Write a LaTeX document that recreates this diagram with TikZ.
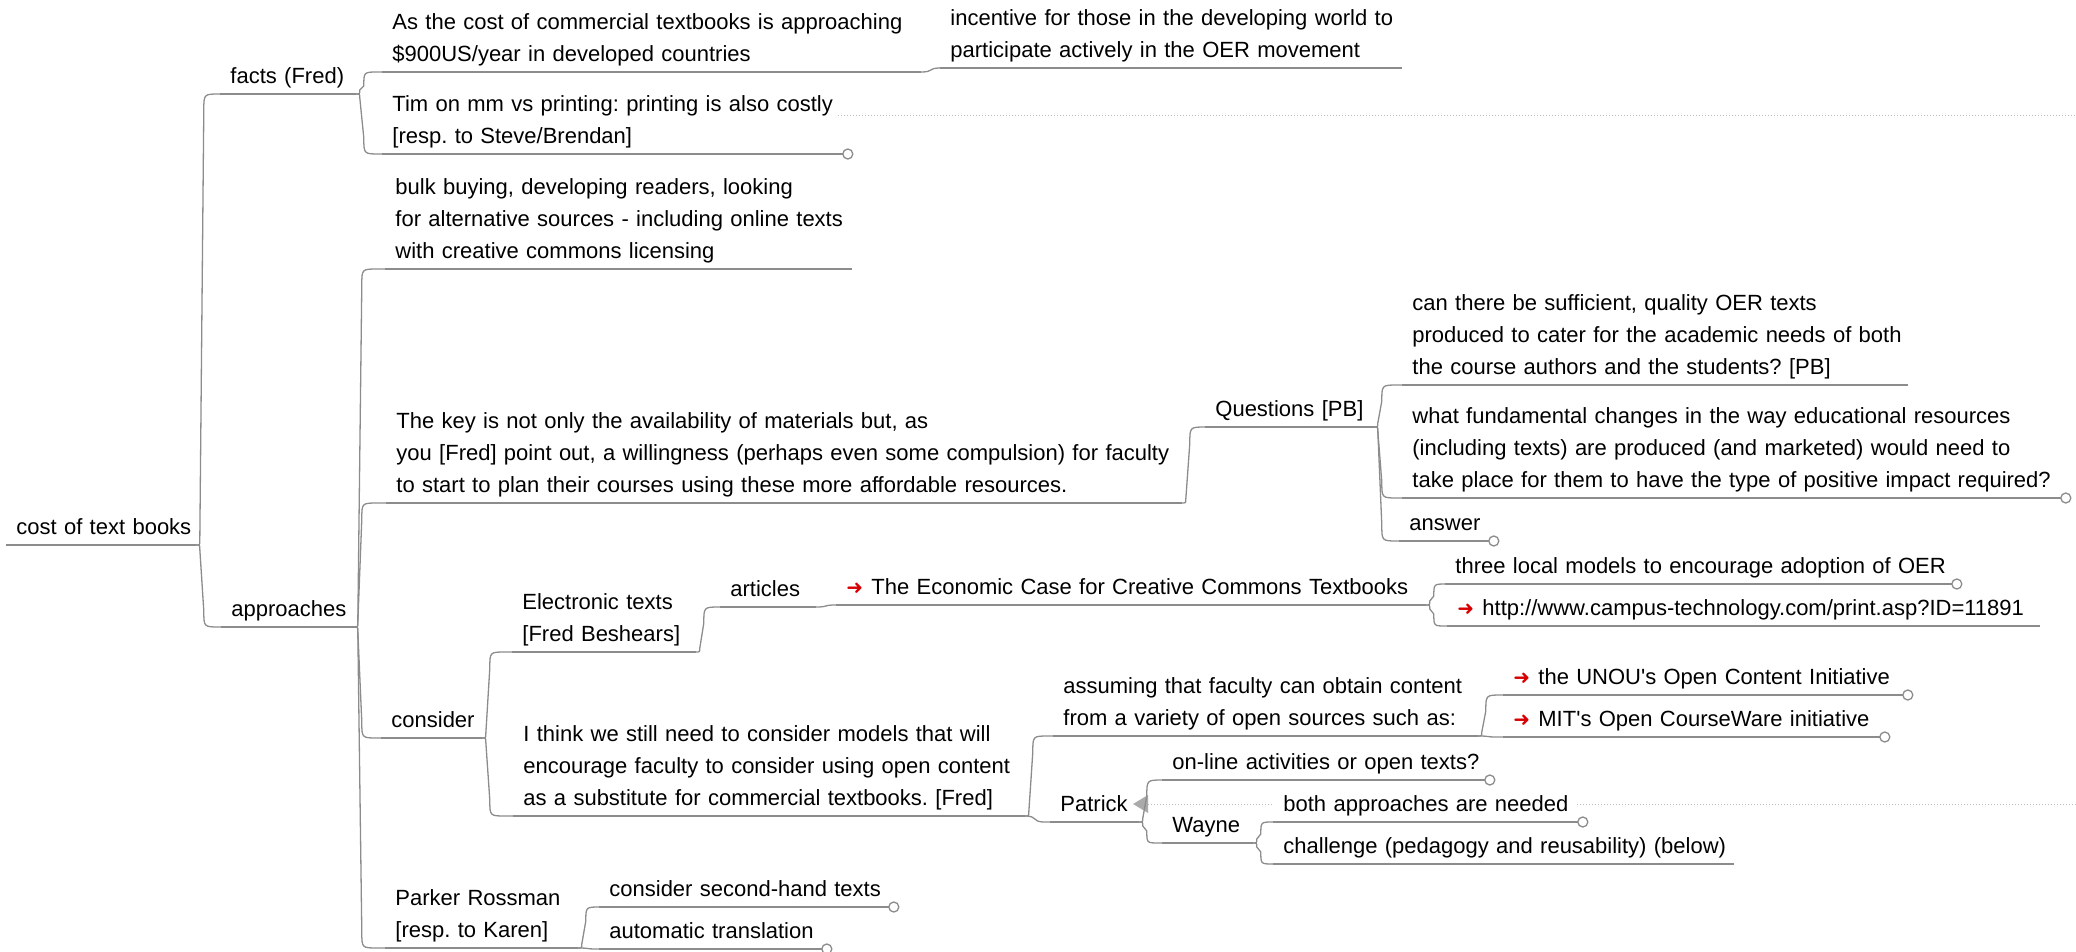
\documentclass[tikz,border=0pt]{standalone}
\usepackage{fontspec}
\setmainfont{Liberation Sans}
\newfontfamily\arrowfont{DejaVu Sans}
\usetikzlibrary{calc}
\definecolor{linegray}{RGB}{140,140,140}
\definecolor{dotgray}{RGB}{190,190,190}
\definecolor{trigray}{RGB}{170,170,170}
\definecolor{arrowred}{RGB}{215,0,0}
\frenchspacing
% red hyperlink marker in front of a topic text
\newcommand\linkarrow{\makebox[12.5pt][l]{\raisebox{0.3pt}{\fontsize{10}{10}\arrowfont\color{arrowred}➜}}}

\begin{document}
\begin{tikzpicture}[x=0.5pt,y=-0.5pt,
  topic/.style={anchor=south west, inner xsep=5pt, inner ysep=5pt, text depth=0pt,
    align=left, font=\fontsize{11}{16}\selectfont},
  % multi-line topics: the box hangs from its first baseline
  twolines/.style={text depth=16pt},
  threelines/.style={text depth=32pt},
  link/.style={draw=linegray, line width=0.65pt},
  dotline/.style={draw=dotgray, line width=0.5pt, dash pattern=on 0.5pt off 1pt},
  % branch: short turn at the parent, near-vertical run, rounded turn into the child
  elbow/.style={to path={
    let \p1=(\tikztostart), \p2=(\tikztotarget), \n1={2*(\y2>\y1)-1} in
    .. controls (\x1+2pt,\y1) .. (\x1+2pt,\y1+\n1*2pt)
    -- (\x1+4pt,\y2-\n1*#1)
    .. controls (\x1+4pt,\y2) .. (\x1+4pt+#1,\y2)
    -- (\p2)}},
  elbow/.default=8pt,
  % branch to a child at nearly the same height
  flat/.style={to path={
    let \p1=(\tikztostart), \p2=(\tikztotarget) in
    .. controls (\x1+7pt,\y1) and (\x1+3pt,\y2) .. (\x1+10pt,\y2) -- (\p2)}}
]
\useasboundingbox (0,0) rectangle (2076,952);

% light dotted guide lines
\draw[dotline] (838,116) -- (2076,116);
\draw[dotline] (1148,804) -- (2076,804);

% topics
\node[topic,text width=84.5pt] (root) at (6,545) {\mbox{cost of text books}};
\node[topic,text width=57.5pt] (facts) at (220,94) {\mbox{facts (Fred)}};
\node[topic,twolines,text width=259pt] (as) at (382,72) {\mbox{As the cost of commercial textbooks is approaching}\\\mbox{\$900US/year in developed countries}};
\node[topic,twolines,text width=220.5pt] (inc) at (940,68) {\mbox{incentive for those in the developing world to}\\\mbox{participate actively in the OER movement}};
\node[topic,twolines,text width=220pt] (tim) at (382,154) {\mbox{Tim on mm vs printing: printing is also costly}\\\mbox{[resp. to Steve/Brendan]}};
\node[topic,text width=56pt] (appr) at (221,627) {\mbox{approaches}};
\node[topic,threelines,text width=223pt] (bulk) at (385,269) {\mbox{bulk buying, developing readers, looking}\\\mbox{for alternative sources - including online texts}\\\mbox{with creative commons licensing}};
\node[topic,threelines,text width=387.5pt] (key) at (386,503) {\mbox{The key is not only the availability of materials but, as}\\\mbox{you [Fred] point out, a willingness (perhaps even some compulsion) for faculty}\\\mbox{to start to plan their courses using these more affordable resources.}};
\node[topic,text width=74pt] (quest) at (1205,427) {\mbox{Questions [PB]}};
\node[topic,threelines,text width=242.5pt] (can) at (1402,385) {\mbox{can there be sufficient, quality OER texts}\\\mbox{produced to cater for the academic needs of both}\\\mbox{the course authors and the students? [PB]}};
\node[topic,threelines,text width=319pt] (what) at (1402,498) {\mbox{what fundamental changes in the way educational resources}\\\mbox{(including texts) are produced (and marketed) would need to}\\\mbox{take place for them to have the type of positive impact required?}};
\node[topic,text width=34.5pt] (answer) at (1399,541) {\mbox{answer}};
\node[topic,text width=40pt] (cons) at (381,738) {\mbox{consider}};
\node[topic,twolines,text width=81.5pt] (elec) at (512,652) {\mbox{Electronic texts}\\\mbox{[Fred Beshears]}};
\node[topic,text width=37.5pt] (art) at (720,607) {\mbox{articles}};
\node[topic,text width=284.5pt] (econ) at (836,605) {\mbox{\linkarrow The Economic Case for Creative Commons Textbooks}};
\node[topic,text width=243pt] (three) at (1445,584) {\mbox{three local models to encourage adoption of OER}};
\node[topic,text width=286pt] (http) at (1447,626) {\mbox{\linkarrow http://www.campus-technology.com/print.asp?ID=11891}};
\node[topic,threelines,text width=245.5pt] (think) at (513,816) {\mbox{I think we still need to consider models that will}\\\mbox{encourage faculty to consider using open content}\\\mbox{as a substitute for commercial textbooks. [Fred]}};
\node[topic,twolines,text width=202pt] (assum) at (1053,736) {\mbox{assuming that faculty can obtain content}\\\mbox{from a variety of open sources such as:}};
\node[topic,text width=189.5pt] (unou) at (1503,695) {\mbox{\linkarrow the UNOU\textquotesingle s Open Content Initiative}};
\node[topic,text width=178pt] (mit) at (1503,737) {\mbox{\linkarrow MIT\textquotesingle s Open CourseWare initiative}};
\node[topic,text width=34pt] (pat) at (1050,822) {\mbox{Patrick}};
\node[topic,text width=151pt] (online) at (1162,780) {\mbox{on-line activities or open texts?}};
\node[topic,text width=35pt] (wayne) at (1162,843) {\mbox{Wayne}};
\node[topic,text width=142pt,fill=white] (both) at (1273,822) {\mbox{both approaches are needed}};
\node[topic,text width=220pt] (chal) at (1273,864) {\mbox{challenge (pedagogy and reusability) (below)}};
\node[topic,twolines,text width=86pt] (park) at (385,948) {\mbox{Parker Rossman}\\\mbox{[resp. to Karen]}};
\node[topic,text width=134.5pt] (second) at (599,907) {\mbox{consider second-hand texts}};
\node[topic,text width=101pt] (auto) at (599,949) {\mbox{automatic translation}};

% collapse marker beside Patrick
\fill[trigray] (1148,795) -- (1133,804) -- (1148,813) -- cycle;

% underlines
\foreach \n in {root,facts,as,inc,tim,appr,bulk,key,quest,can,what,answer,cons,elec,art,econ,
  three,http,think,assum,unou,mit,pat,online,wayne,both,chal,park,second,auto}
  \draw[link] (\n.south west) -- (\n.south east);

% branches
\draw[link] (root.south east) to[elbow] (facts.south west);
\draw[link] (root.south east) to[elbow] (appr.south west);
\draw[link] (facts.south east) to[elbow=7pt] (as.south west);
\draw[link] (facts.south east) to[elbow] (tim.south west);
\draw[link] (as.south east) to[flat] (inc.south west);
\draw[link] (appr.south east) to[elbow] (bulk.south west);
\draw[link] (appr.south east) to[elbow] (key.south west);
\draw[link] (appr.south east) to[elbow] (cons.south west);
\draw[link] (appr.south east) to[elbow] (park.south west);
\draw[link] (key.south east) to[elbow] (quest.south west);
\draw[link] (quest.south east) to[elbow] (can.south west);
\draw[link] (quest.south east) to[elbow] (what.south west);
\draw[link] (quest.south east) to[elbow] (answer.south west);
\draw[link] (cons.south east) to[elbow] (elec.south west);
\draw[link] (cons.south east) to[elbow] (think.south west);
\draw[link] (elec.south east) to[elbow] (art.south west);
\draw[link] (art.south east) to[flat] (econ.south west);
\draw[link] (econ.south east) to[elbow=6pt] (three.south west);
\draw[link] (econ.south east) to[elbow=6pt] (http.south west);
\draw[link] (think.south east) to[elbow] (assum.south west);
\draw[link] (think.south east) to[flat] (pat.south west);
\draw[link] (assum.south east) to[elbow] (unou.south west);
\draw[link] (assum.south east) to[flat] (mit.south west);
\draw[link] (pat.south east) to[elbow] (online.south west);
\draw[link] (pat.south east) to[elbow=6pt] (wayne.south west);
\draw[link] (wayne.south east) to[elbow=6pt] (both.south west);
\draw[link] (wayne.south east) to[elbow=6pt] (chal.south west);
\draw[link] (park.south east) to[elbow=7pt] (second.south west);
\draw[link] (park.south east) to[flat] (auto.south west);

% end markers
\foreach \n in {tim,what,answer,three,unou,mit,online,both,second,auto}
  \draw[link,fill=white] ([xshift=2.5pt]\n.south east) circle[radius=2.5pt];
\end{tikzpicture}
\end{document}
